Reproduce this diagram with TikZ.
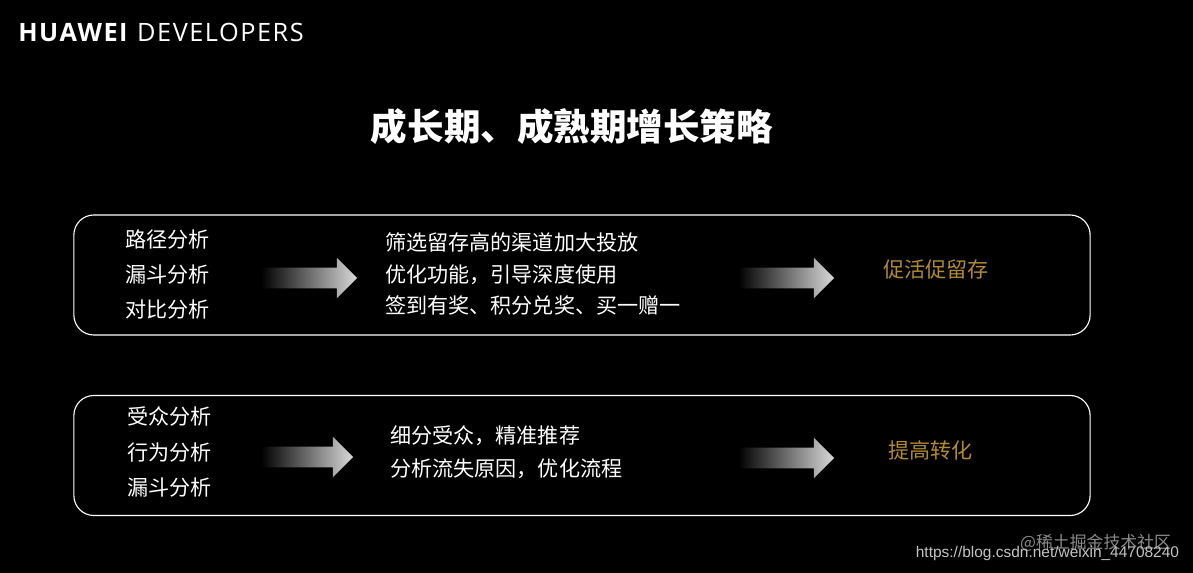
\documentclass[tikz,border=0pt]{standalone}
\usepackage{fontspec}
\setmainfont{Open Sans}
\newfontfamily\brandfont[LetterSpace=6]{Open Sans}
\newfontfamily\cjk{Noto Sans CJK SC}
\newfontfamily\urlfont{Liberation Sans}
\usetikzlibrary{shapes.arrows}

\definecolor{golden}{RGB}{176,138,52}
\definecolor{wmgray}{RGB}{196,196,196}

\tikzset{
    stagebox/.style={draw=white,line width=0.8pt,rounded corners=0.5cm,minimum width=25.4cm,minimum height=3cm},
    fadearrow/.style={single arrow,single arrow head extend=0.25cm,inner xsep=0pt,inner ysep=0.25cm,minimum height=2.4cm,left color=black,right color=white!85!black},
    bodytext/.style={text=white,inner xsep=0pt,font=\cjk\fontsize{15}{25}\selectfont,align=left},
    goaltext/.style={text=golden,inner xsep=0pt,font=\cjk\fontsize{15}{18}\selectfont}
}

\begin{document}
\begin{tikzpicture}[x=0.025cm,y=-0.025cm]
    \fill[black] (0,0) rectangle (1193,573);
    \useasboundingbox (0,0) rectangle (1193,573);

    \node[anchor=west,inner xsep=0pt,text=white,font=\brandfont\fontsize{18}{22}\selectfont] (brand) at (18,32) {\textbf{HUAWEI} DEVELOPERS};
    \node[text=white,font=\cjk\bfseries\fontsize{26}{30}\selectfont] (title) at (572,127) {成长期、成熟期增长策略};

    % growth stage
    \node[stagebox] (growth) at (582,275) {};
    \node[bodytext,anchor=west] (growthtools) at (125,274.5) {路径分析\\漏斗分析\\对比分析};
    \node[fadearrow] (growthin) at (304,278) {};
    \node[bodytext,anchor=west,font=\cjk\fontsize{15}{22.7}\selectfont] (growthacts) at (385,274) {筛选留存高的渠道加大投放\\优化功能，引导深度使用\\签到有奖、积分兑奖、买一赠一};
    \node[fadearrow] (growthout) at (781,278) {};
    \node[goaltext,anchor=west] (growthgoal) at (883,270) {促活促留存};

    % mature stage
    \node[stagebox] (mature) at (582,455.5) {};
    \node[bodytext,anchor=west] (maturetools) at (127,452) {受众分析\\行为分析\\漏斗分析};
    \node[fadearrow,minimum height=2.3cm] (maturein) at (302,457) {};
    \node[bodytext,anchor=west,font=\cjk\fontsize{15}{23.4}\selectfont] (matureacts) at (390,452.5) {细分受众，精准推荐\\分析流失原因，优化流程};
    \node[fadearrow] (matureout) at (781,458) {};
    \node[goaltext,anchor=west] (maturegoal) at (888,450) {提高转化};

    % watermark
    \node[anchor=east,text=wmgray,opacity=0.7,font=\cjk\fontsize{12}{14}\selectfont] (wmsite) at (1176,543) {@稀土掘金技术社区};
    \node[anchor=east,text=wmgray,font=\urlfont\fontsize{11}{13}\selectfont] (wmurl) at (1184,553) {https://blog.csdn.net/weixin\_44708240};
\end{tikzpicture}
\end{document}
